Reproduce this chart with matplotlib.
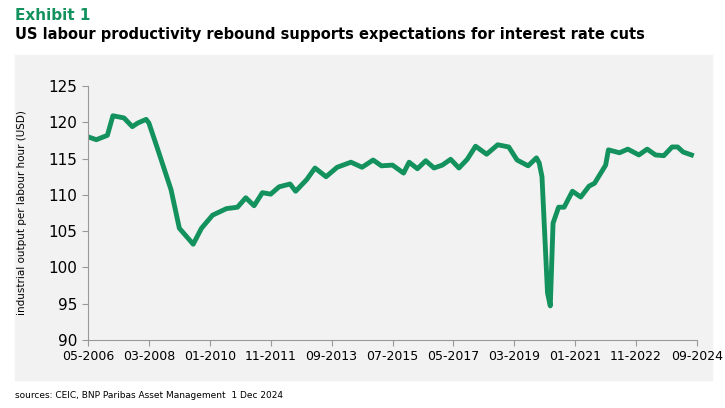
import matplotlib.pyplot as plt
from matplotlib.patches import Rectangle

plt.rcParams['font.family'] = ['Liberation Sans Narrow', 'DejaVu Sans']

# months since 05-2006
months = [0, 3, 7, 9, 13, 16, 18, 21, 22, 25, 30, 33, 38, 41, 45, 50, 54, 57, 60, 63,
          66, 69, 73, 75, 79, 82, 86, 90, 95, 99, 103, 106, 110, 114, 116, 119, 122, 125,
          128, 131, 134, 137, 140, 144, 148, 152, 155, 159, 162, 163, 164, 166, 167, 168,
          170, 172, 175, 178, 181, 183, 187, 188, 192, 195, 199, 202, 205, 208, 211, 213,
          215, 218]
productivity = [118.0, 117.6, 118.2, 120.9, 120.6, 119.4, 119.9, 120.4, 119.9, 116.5,
                110.7, 105.4, 103.2, 105.4, 107.2, 108.1, 108.3, 109.6, 108.5, 110.3,
                110.1, 111.1, 111.5, 110.5, 112.1, 113.7, 112.5, 113.8, 114.5, 113.8,
                114.8, 114.0, 114.1, 113.0, 114.5, 113.6, 114.7, 113.7, 114.1, 114.9,
                113.7, 114.9, 116.7, 115.6, 116.9, 116.6, 114.8, 114.0, 115.1, 114.4,
                112.5, 96.5, 94.7, 106.1, 108.3, 108.3, 110.5, 109.7, 111.2, 111.6,
                114.1, 116.2, 115.8, 116.3, 115.5, 116.3, 115.5, 115.4, 116.6, 116.6,
                115.9, 115.5]
tick_pos = list(range(0, 221, 22))
tick_labels = ['05-2006', '03-2008', '01-2010', '11-2011', '09-2013', '07-2015',
               '05-2017', '03-2019', '01-2021', '11-2022', '09-2024']

fig = plt.figure(figsize=(7.25, 4.08), dpi=100)
fig.patches.append(Rectangle((15 / 725, 1 - 380 / 408), 697 / 725, 325 / 408,
                             transform=fig.transFigure, color='#f2f2f2', zorder=-5))
ax = fig.add_axes([88 / 725, 1 - 340 / 408, 609 / 725, 254 / 408])
ax.set_zorder(2)
ax.set_facecolor('#f2f2f2')
ax.plot(months, productivity, color='#13925e', lw=3.5, solid_joinstyle='round')
ax.set_xlim(0, 220)
ax.set_ylim(90, 125)
ax.set_yticks(range(90, 126, 5))
ax.set_xticks(tick_pos)
ax.set_xticklabels(tick_labels)
ax.tick_params(axis='y', labelsize=11, color='#999999', length=4)
ax.tick_params(axis='x', labelsize=9, color='#999999', length=4)
for s in ['top', 'right']:
    ax.spines[s].set_visible(False)
for s in ['left', 'bottom']:
    ax.spines[s].set_color('#999999')
ax.set_ylabel('industrial output per labour hour (USD)', fontsize=7.5)
ax.yaxis.set_label_coords(-0.1, 0.5)

fig.text(15 / 725, 1 - 16 / 408, 'Exhibit 1', fontsize=11, fontweight='bold',
         color='#13925e', va='center')
fig.text(15 / 725, 1 - 35 / 408,
         'US labour productivity rebound supports expectations for interest rate cuts',
         fontsize=10.5, fontweight='bold', va='center')
fig.text(15 / 725, 1 - 396 / 408,
         'sources: CEIC, BNP Paribas Asset Management  1 Dec 2024', fontsize=6.5, va='center')
fig.savefig('out.png', dpi=100)
